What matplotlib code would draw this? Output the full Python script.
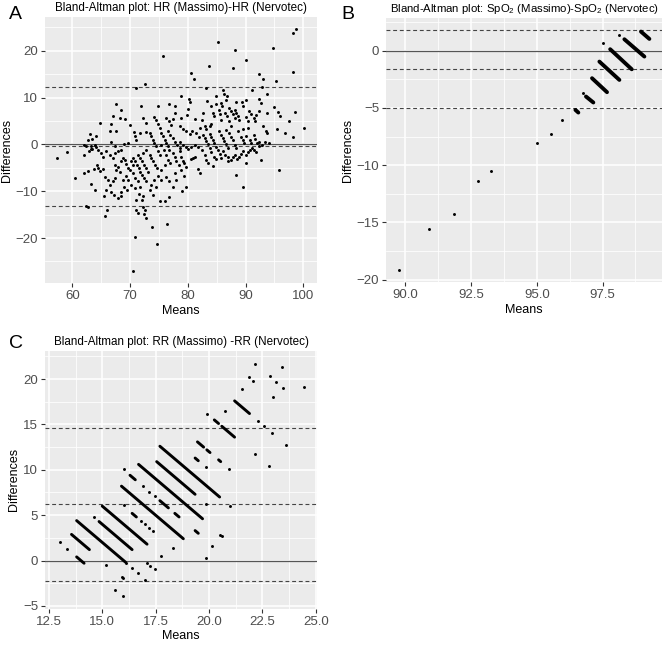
import matplotlib
matplotlib.use("Agg")
import matplotlib.pyplot as plt
from matplotlib.ticker import MultipleLocator, FormatStrFormatter

plt.rcParams['font.family'] = ['Liberation Sans', 'DejaVu Sans']
plt.rcParams['mathtext.fontset'] = 'custom'
plt.rcParams['mathtext.rm'] = 'Liberation Sans'
plt.rcParams['mathtext.default'] = 'regular'

# ---- panel A: HR ----
hr_means = [57.4, 59.0, 60.5, 62.1, 62.4, 62.1, 62.8, 62.7, 63.0, 63.4,
            64.1, 63.2, 63.4, 63.9, 64.1, 64.4, 63.3, 64.3, 64.7, 64.7,
            65.0, 65.3, 65.9, 66.5, 67.0, 66.7, 67.3, 66.7, 66.6, 67.6,
            67.0, 67.6, 68.4, 68.2, 69.2, 69.9, 67.3, 67.9, 68.5, 69.0,
            69.6, 68.8, 68.5, 67.3, 67.9, 67.6, 68.2, 69.1, 69.3, 69.7,
            70.1, 70.5, 70.5, 70.9, 71.2, 71.5, 71.8, 72.1, 72.4, 72.7,
            71.4, 71.7, 72.0, 72.4, 72.7, 73.1, 72.2, 72.8, 73.4, 73.7,
            74.0, 74.4, 74.7, 74.8, 75.1, 75.4, 75.9, 76.3, 76.5, 77.0,
            77.4, 77.7, 78.0, 78.4, 78.9, 79.1, 78.9, 77.7, 78.0, 77.4,
            79.0, 76.0, 75.4, 74.8, 74.2, 73.7, 74.5, 73.4, 74.0, 75.4,
            76.3, 76.8, 69.3, 68.8, 69.6, 69.0, 69.5, 68.5, 67.3, 67.0,
            66.5, 66.2, 65.6, 65.9, 65.5, 66.7, 67.2, 67.9, 68.5, 65.3,
            64.4, 63.7, 62.7, 62.1, 63.2, 63.9, 69.9, 70.5, 70.8, 71.4,
            71.8, 70.2, 70.8, 71.6, 72.2, 71.1, 72.0, 71.1, 71.4, 72.2,
            72.5, 72.4, 72.8, 75.1, 76.0, 76.7, 62.4, 62.7, 66.0, 65.6,
            70.8, 73.8, 74.6, 76.4, 70.5, 71.9, 74.9, 76.7, 77.8, 72.2,
            72.8, 74.2, 74.5, 74.8, 75.1, 76.3, 76.7, 77.1, 77.4, 77.7,
            78.9, 70.7, 70.8, 71.1, 71.8, 72.8, 73.4, 73.7, 74.0, 74.2,
            74.5, 75.4, 75.7, 76.0, 76.3, 76.5, 76.8, 76.5, 77.0, 77.4,
            77.8, 78.2, 78.6, 71.0, 72.6, 75.7, 80.5, 81.0, 83.6, 87.9,
            90.0, 92.4, 93.0, 93.7, 91.2, 95.3, 98.3, 85.2, 88.1, 94.8,
            98.2, 98.8, 92.9, 78.8, 80.2, 80.4, 80.0, 83.1, 83.3, 84.0,
            84.9, 86.1, 86.3, 86.8, 84.9, 85.8, 86.0, 86.6, 87.1, 87.5,
            88.4, 89.4, 89.6, 90.1, 92.3, 92.6, 88.1, 88.4, 88.7, 88.9,
            90.6, 91.0, 91.4, 91.7, 91.9, 92.3, 90.1, 90.4, 87.8, 88.1,
            86.5, 86.8, 87.2, 85.4, 85.5, 85.8, 84.3, 84.5, 84.0, 83.9,
            82.6, 82.5, 81.3, 79.8, 78.7, 79.1, 79.7, 80.3, 80.8, 81.4,
            82.1, 82.9, 83.1, 82.0, 82.7, 82.9, 83.2, 83.5, 83.8, 83.8,
            84.0, 84.3, 84.6, 84.9, 85.2, 85.5, 85.4, 85.8, 86.1, 86.3,
            86.6, 86.9, 86.6, 87.2, 87.5, 87.8, 88.1, 88.4, 87.5, 88.7,
            89.2, 89.5, 89.8, 90.1, 90.7, 91.0, 91.4, 91.7, 92.0, 92.3,
            90.4, 89.5, 93.1, 93.6, 93.7, 94.0, 95.0, 95.6, 96.0, 95.4,
            96.9, 97.6, 98.3, 98.6, 100.2, 93.7, 78.6, 79.1, 79.6, 80.0,
            80.6, 81.2, 81.7, 81.3, 80.9, 80.6, 78.6, 79.3, 79.6, 79.4,
            79.6, 81.7, 82.1, 82.5, 82.9, 83.2, 83.5, 84.3, 84.0, 84.6,
            84.9, 86.1, 86.5, 86.9, 87.5, 87.8, 88.1, 88.5, 88.8, 89.2,
            89.5, 90.1, 90.4, 90.7, 91.1, 91.5, 91.9, 92.4, 92.8, 93.3,
            90.1, 88.4, 89.6, 92.7, 95.8, 86.9, 85.8]
hr_diffs = [-2.9, -1.6, -7.1, -0.1, -0.3, -2.2, -1.5, 1.0, 2.2, 1.1,
            1.7, -0.4, -1.0, -0.1, -0.6, -1.1, -0.9, -4.3, -5.7, 4.6,
            -1.9, -2.6, -1.4, -2.2, -2.9, 0.6, -0.4, 4.4, 2.9, 2.9,
            6.0, 8.7, 7.3, 5.6, 5.4, 4.2, -1.9, -1.5, -1.1, 0.1,
            0.4, -2.9, -3.6, -4.4, -4.8, -5.4, -5.8, -3.4, -4.1, -5.1,
            -3.6, -4.4, -2.9, -3.6, -4.4, -5.1, -5.8, -6.5, -7.2, -7.9,
            -2.2, -2.9, -3.6, -4.4, -5.1, -5.8, -1.9, -1.1, -2.2, -2.9,
            -3.6, -4.4, -5.1, -1.5, -2.2, -0.1, -1.1, -2.2, -3.3, -4.0,
            -1.9, -2.6, -3.5, -4.4, -2.6, -3.6, -5.4, -6.1, -7.6, -9.0,
            -9.9, -4.4, -5.4, -6.7, -7.6, -8.6, -9.0, -9.7, -10.8, -7.6,
            -6.9, -7.9, -6.8, -7.6, -7.7, -9.0, -9.7, -10.1, -7.2, -7.9,
            -8.6, -7.6, -7.0, -9.7, -11.0, -10.1, -10.8, -11.5, -11.1, -5.2,
            -5.1, -5.3, -5.6, -6.1, -8.4, -9.7, -5.4, -6.1, -7.2, -7.9,
            -9.0, -8.6, -9.3, -10.6, -11.1, -11.8, -11.8, -14.1, -14.7, -13.3,
            -14.1, -14.8, -15.8, -12.0, -12.0, -11.3, -13.1, -13.4, -14.1, -15.3,
            -19.7, -17.6, -21.3, -17.0, -27.0, 8.1, 8.1, 8.7, 8.1, 5.6,
            4.6, 5.8, 5.1, 4.4, 3.6, 5.6, 4.9, 4.2, 5.4, 6.7,
            5.6, 2.6, 1.7, 1.0, 2.4, 2.6, 2.4, 1.7, 1.0, 0.3,
            -0.4, 2.4, 1.7, 1.0, 0.3, -0.4, -1.1, 2.8, 2.1, 1.4,
            0.6, -0.1, -0.8, 12.0, 12.9, 18.8, 15.3, 13.9, 16.7, 16.4,
            18.1, 15.1, 14.0, 10.8, 11.6, 13.5, 15.5, 21.8, 20.1, 20.6,
            23.7, 24.6, 12.2, 10.3, 9.6, 9.0, 7.6, 12.1, 9.2, 8.2,
            10.3, 11.7, 10.8, 10.4, 8.6, 8.9, 8.3, 9.4, 7.8, 7.1,
            9.0, 9.0, 8.3, 9.4, 9.6, 8.9, 7.4, 6.7, 6.0, 5.3,
            7.1, 6.4, 5.6, 4.9, 6.2, 7.1, 5.9, 4.9, 6.4, 5.6,
            6.7, 6.0, 4.9, 7.4, 6.4, 5.1, 6.6, 6.0, 4.4, 3.9,
            6.7, 5.3, 5.4, 6.2, 4.0, 3.2, 2.8, 2.3, 2.8, 2.4,
            3.5, 3.9, 3.3, 1.5, 2.1, 1.4, 0.7, 0.0, -0.8, 2.3,
            1.6, 0.9, 0.2, -0.6, -1.3, -2.0, 2.8, 2.1, 1.4, 0.7,
            0.0, -0.8, 3.1, 2.4, 1.6, 0.9, -0.1, -0.8, 3.9, 2.8,
            1.6, 0.9, 0.2, 1.7, 1.0, 0.3, 2.1, 1.2, 0.4, -0.3,
            3.5, 3.3, 3.9, 2.8, 2.4, 0.3, 8.0, 6.9, 6.0, 3.3,
            2.4, 4.9, 1.6, 6.9, 3.6, 6.7, 0.6, -0.1, -0.6, -1.0,
            -0.6, -0.1, -0.6, -2.6, -3.0, -3.1, -1.5, -4.0, -4.9, -6.8,
            -9.1, -5.3, -6.1, -1.3, -2.2, -3.3, -4.0, -4.6, -1.7, -2.6,
            -3.1, -1.5, -2.2, -3.6, -3.3, -2.7, -2.2, -3.1, -2.7, -2.0,
            -1.5, -2.2, -1.7, -1.3, -0.8, -1.1, -1.7, 0.6, -0.1, 0.6,
            -4.0, -6.5, -9.1, -3.4, -5.4, -2.6, -3.0]
hr_lines = [12.3, -0.3, -13.1]

# ---- panel B: SpO2 ----
spo2_means = [89.75, 90.91, 91.84, 92.75, 93.26, 95.0, 95.54, 95.94, 96.74, 97.53, 98.14]
spo2_diffs = [-19.13, -15.58, -14.24, -11.42, -10.49, -8.11, -7.24, -6.08, -3.66, 0.64, 1.40]
# runs of overlapping points (start / end of each run)
spo2_run_m0 = [96.47, 96.87, 97.10, 97.38, 97.79, 98.33, 98.96]
spo2_run_d0 = [-5.18, -4.01, -2.41, -0.96, 0.12, 0.99, 1.66]
spo2_run_m1 = [96.58, 97.15, 97.67, 98.14, 98.61, 99.09, 99.28]
spo2_run_d1 = [-5.41, -4.53, -3.63, -2.56, -1.63, -0.52, 1.02]
spo2_lines = [1.80, -1.63, -5.03]

# ---- panel C: RR ----
rr_means = [13.0, 13.33, 14.6, 15.19, 16.13, 16.39, 16.66, 17.09, 17.25, 17.48,
            17.01, 15.92, 15.97, 15.61, 15.97, 16.0, 16.0, 17.76, 18.3, 19.86,
            20.16, 20.52, 20.6, 19.86, 20.98, 20.75, 21.57, 21.89, 22.04, 22.15,
            22.85, 23.13, 23.4, 23.47, 23.01, 24.45, 22.31, 22.59, 22.93, 23.63,
            22.15, 22.8, 16.8, 17.0, 17.2, 17.4, 19.86, 20.95, 16.9, 17.2,
            17.45, 19.9]
rr_diffs = [2.0, 1.3, 4.8, -0.45, -0.3, -0.85, -1.4, -0.3, -0.6, -0.95,
            -2.13, -1.83, -1.95, -3.23, -3.96, 10.1, 6.1, 0.5, 1.36, 0.26,
            1.65, 2.85, 2.75, 6.2, 6.0, 16.5, 18.9, 20.26, 19.8, 21.7,
            20.3, 19.7, 21.3, 19.05, 18.0, 19.1, 15.4, 14.8, 14.1, 12.7,
            11.75, 10.4, 4.4, 4.0, 3.6, 3.2, 10.3, 10.1, 8.2, 7.6,
            7.1, 16.2]
rr_run_m0 = [13.80, 13.56, 13.80, 14.85, 15.00, 16.40, 15.90, 16.30, 17.70, 18.40,
             19.35, 16.70, 17.55, 17.70, 19.35, 19.46, 19.90, 20.45, 20.25, 20.60,
             21.20]
rr_run_d0 = [0.40, 2.88, 4.40, 4.30, 6.00, 5.20, 8.20, 9.40, 6.60, 5.20,
             3.30, 10.60, 10.90, 12.60, 11.30, 13.08, 12.20, 11.10, 15.50, 14.80,
             17.60]
rr_run_m1 = [14.15, 14.40, 16.10, 16.40, 17.10, 16.60, 18.80, 16.55, 18.10, 18.60,
             19.50, 19.70, 19.35, 20.50, 19.50, 19.75, 20.05, 20.55, 20.45, 21.20,
             21.90]
rr_run_d1 = [-0.30, 1.20, -0.20, 1.20, 1.80, 4.80, 2.40, 8.90, 5.80, 4.80,
             3.00, 4.60, 7.30, 7.00, 11.00, 12.50, 11.90, 10.90, 15.10, 13.60,
             16.20]
rr_lines = [14.6, 6.2, -2.24]


def gg_style(ax):
    ax.set_facecolor('#EBEBEB')
    for s in ax.spines.values():
        s.set_visible(False)
    ax.grid(which='major', color='white', lw=1.1)
    ax.grid(which='minor', color='white', lw=0.55)
    ax.set_axisbelow(True)
    ax.tick_params(which='major', length=3, width=0.8, color='#333333',
                   labelsize=9.5, labelcolor='#4D4D4D', pad=2)
    ax.tick_params(which='minor', length=0)


def ref_lines(ax, levels):
    ax.axhline(0, color='#555555', lw=0.9, zorder=2)
    for v in levels:
        ax.axhline(v, color='#444444', lw=0.8, ls=(0, (3.5, 2.5)), zorder=2)


fig = plt.figure(figsize=(6.66, 6.46), dpi=100)

# A
axA = fig.add_axes([0.0676, 0.5619, 0.408, 0.4118])
gg_style(axA)
ref_lines(axA, hr_lines)
axA.scatter(hr_means, hr_diffs, s=4.5, color='black', lw=0, zorder=3)
axA.set_xlim(55.26, 102.34)
axA.set_ylim(-29.6, 27.2)
axA.xaxis.set_major_locator(MultipleLocator(10))
axA.xaxis.set_minor_locator(MultipleLocator(5))
axA.yaxis.set_major_locator(MultipleLocator(10))
axA.yaxis.set_minor_locator(MultipleLocator(5))
axA.set_title('Bland-Altman plot: HR (Massimo)-HR (Nervotec)', fontsize=8.4, pad=4)
axA.set_xlabel('Means', fontsize=9, labelpad=2)
axA.set_ylabel('Differences', fontsize=9, labelpad=2)

# B
axB = fig.add_axes([0.5796, 0.5635, 0.4144, 0.4087])
gg_style(axB)
ref_lines(axB, spo2_lines)
axB.scatter(spo2_means, spo2_diffs, s=4.5, color='black', lw=0, zorder=3)
for i in range(len(spo2_run_m0)):
    axB.plot([spo2_run_m0[i], spo2_run_m1[i]], [spo2_run_d0[i], spo2_run_d1[i]],
             color='black', lw=2.8, solid_capstyle='round', zorder=3)
axB.set_xlim(89.27, 99.76)
axB.set_ylim(-20.2, 2.85)
axB.xaxis.set_major_locator(MultipleLocator(2.5))
axB.xaxis.set_minor_locator(MultipleLocator(1.25))
axB.yaxis.set_major_locator(MultipleLocator(5))
axB.yaxis.set_minor_locator(MultipleLocator(2.5))
axB.xaxis.set_major_formatter(FormatStrFormatter('%.1f'))
axB.set_title('Bland-Altman plot: SpO$_2$ (Massimo)-SpO$_2$ (Nervotec)', fontsize=8.2, pad=4)
axB.set_xlabel('Means', fontsize=9, labelpad=2)
axB.set_ylabel('Differences', fontsize=9, labelpad=2)

# C
axC = fig.add_axes([0.0676, 0.0579, 0.409, 0.3988])
gg_style(axC)
ref_lines(axC, rr_lines)
axC.scatter(rr_means, rr_diffs, s=4.5, color='black', lw=0, zorder=3)
for i in range(len(rr_run_m0)):
    axC.plot([rr_run_m0[i], rr_run_m1[i]], [rr_run_d0[i], rr_run_d1[i]],
             color='black', lw=2.1, solid_capstyle='round', zorder=3)
axC.set_xlim(12.32, 25.08)
axC.set_ylim(-5.3, 23.1)
axC.xaxis.set_major_locator(MultipleLocator(2.5))
axC.xaxis.set_minor_locator(MultipleLocator(1.25))
axC.yaxis.set_major_locator(MultipleLocator(5))
axC.yaxis.set_minor_locator(MultipleLocator(2.5))
axC.xaxis.set_major_formatter(FormatStrFormatter('%.1f'))
axC.set_title('Bland-Altman plot: RR (Massimo) -RR (Nervotec)', fontsize=8.4, pad=4)
axC.set_xlabel('Means', fontsize=9, labelpad=2)
axC.set_ylabel('Differences', fontsize=9, labelpad=2)

fig.text(0.014, 0.978, 'A', fontsize=14, va='center', ha='left')
fig.text(0.512, 0.978, 'B', fontsize=14, va='center', ha='left')
fig.text(0.014, 0.469, 'C', fontsize=14, va='center', ha='left')

fig.savefig('out.png', dpi=100)
